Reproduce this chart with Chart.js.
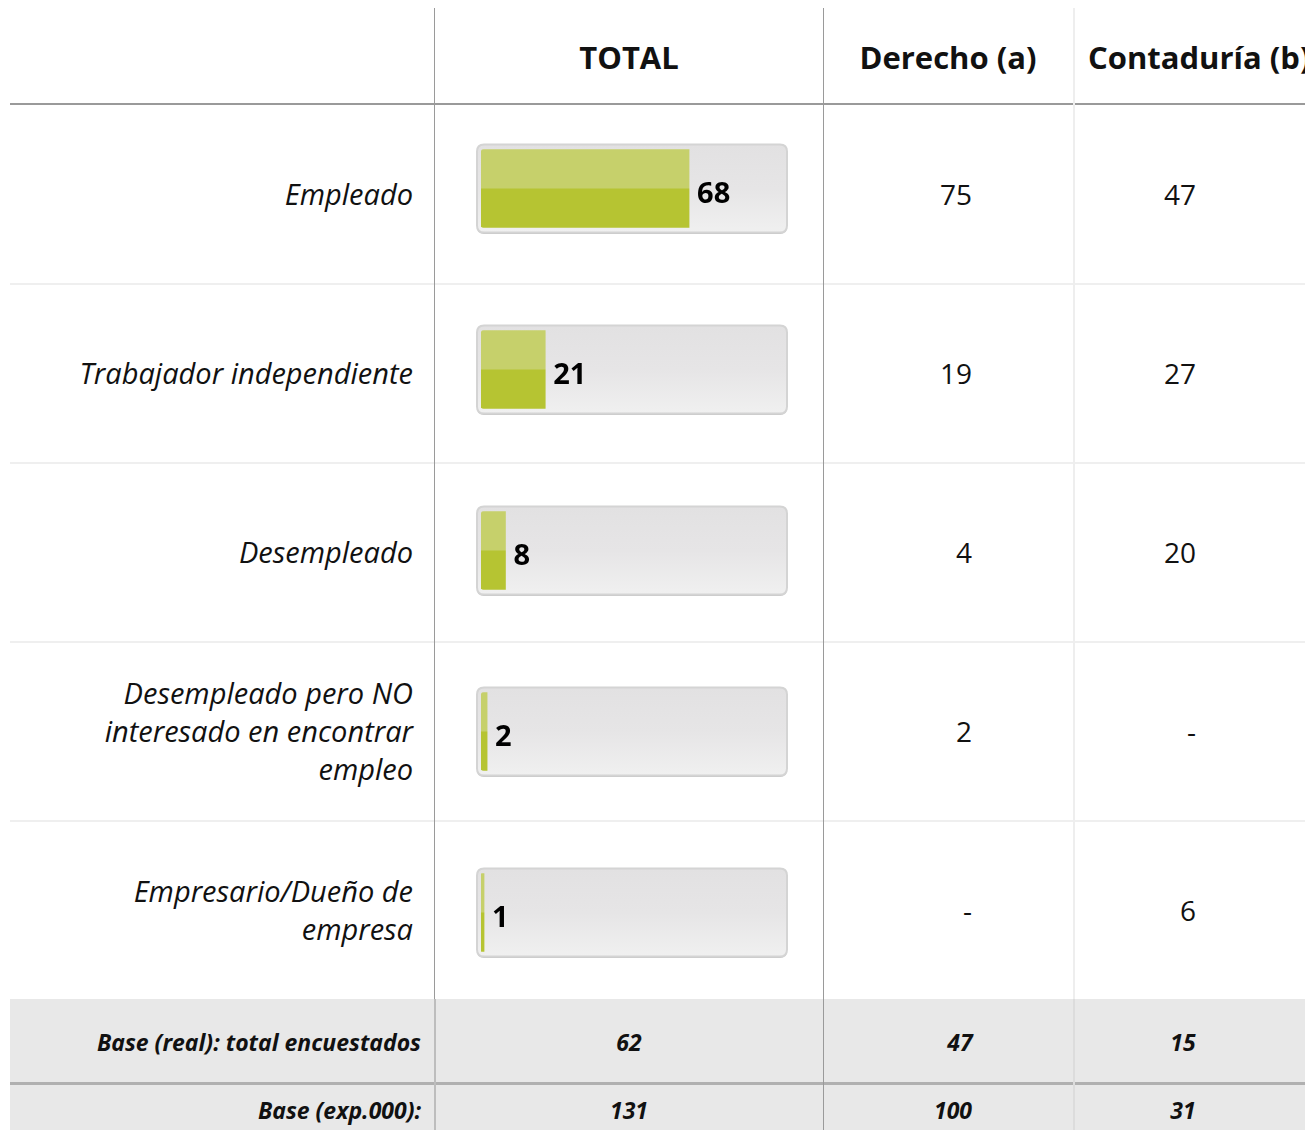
<!DOCTYPE html>
<html>
<head>
<meta charset="utf-8">
<script src="https://cdn.jsdelivr.net/npm/chart.js@4.4.1/dist/chart.umd.min.js"></script>
<style>
  html, body { margin: 0; padding: 0; }
  body { width: 1305px; height: 1130px; overflow: hidden; position: relative; background: #fff; font-family: "Open Sans", sans-serif; color: #111; }
  .abs { position: absolute; white-space: nowrap; }
  .hdr { font-weight: bold; font-size: 31px; line-height: 40px; top: 37px; }
  .lbl { font-style: italic; font-size: 29px; line-height: 38px; text-align: right; right: 892px; }
  .num { font-size: 28px; line-height: 38px; text-align: right; }
  .base { font-weight: bold; font-style: italic; font-size: 23px; line-height: 30px; }
  .vline { position: absolute; width: 1px; }
  .hline { position: absolute; height: 2px; left: 10px; width: 1295px; }
  #chartWrap { position: absolute; left: 470px; top: 98px; width: 330px; height: 905px; z-index: 5; }
</style>
</head>
<body>
<div id="table"></div>
<div id="chartWrap"><canvas id="c" width="330" height="905"></canvas></div>
<script>
// ---- data ----
const columnHeaders = ["TOTAL", "Derecho (a)", "Contaduría (b)"];
const categories = [
  ["Empleado"],
  ["Trabajador independiente"],
  ["Desempleado"],
  ["Desempleado pero NO", "interesado en encontrar", "empleo"],
  ["Empresario/Dueño de", "empresa"]
];
const totalValues = [68, 21, 8, 2, 1];
const derechoValues = ["75", "19", "4", "2", "-"];
const contaduriaValues = ["47", "27", "20", "-", "6"];
const baseLabels = ["Base (real): total encuestados", "Base (exp.000):"];
const baseReal = ["62", "47", "15"];
const baseExp = ["131", "100", "31"];
const scaleMax = 100;

// ---- table (HTML) ----
const T = document.getElementById('table');
function add(html, cls, style) {
  const d = document.createElement('div');
  d.className = cls;
  d.innerHTML = html;
  Object.assign(d.style, style);
  T.appendChild(d);
  return d;
}
add('', 'abs', {left: '10px', top: '999px', width: '1295px', height: '131px', background: '#e8e8e8'});
add('', 'hline', {top: '103px', background: '#9a9a9a'});
[283, 462, 641, 820].forEach(y => add('', 'hline', {top: y + 'px', background: '#efefef'}));
add('', 'hline', {top: '1082px', background: '#b0b0b0', height: '3px'});
add('', 'vline', {left: '434px', top: '8px', height: '991px', background: '#9a9a9a'});
add('', 'vline', {left: '434px', top: '999px', height: '131px', background: '#bdbdbd', width: '2px'});
add('', 'vline', {left: '823px', top: '8px', height: '1122px', background: '#9a9a9a'});
add('', 'vline', {left: '1073px', top: '8px', height: '991px', background: '#eeeeee', width: '2px'});
add('', 'vline', {left: '1073px', top: '999px', height: '131px', background: '#dcdcdc', width: '2px'});

add(columnHeaders[0], 'abs hdr', {left: '529px', width: '200px', textAlign: 'center'});
add(columnHeaders[1], 'abs hdr', {left: '848px', width: '200px', textAlign: 'center'});
add(columnHeaders[2], 'abs hdr', {left: '1088px'});

categories.forEach((lines, i) => {
  const cy = 194 + 179 * i;
  const h = lines.length * 38;
  add(lines.join('<br>'), 'abs lbl', {top: (cy - h / 2) + 'px'});
  add(derechoValues[i], 'abs num', {top: (cy - 19) + 'px', left: '872px', width: '100px'});
  add(contaduriaValues[i], 'abs num', {top: (cy - 19) + 'px', left: '1096px', width: '100px'});
});

[[baseReal, 1042], [baseExp, 1110]].forEach(([vals, cy], r) => {
  add(baseLabels[r], 'abs base', {top: (cy - 15) + 'px', right: '884px', textAlign: 'right'});
  add(vals[0], 'abs base', {top: (cy - 15) + 'px', left: '579px', width: '100px', textAlign: 'center'});
  add(vals[1], 'abs base', {top: (cy - 15) + 'px', left: (r === 0 ? 910 : 903) + 'px', width: '100px', textAlign: 'center'});
  add(vals[2], 'abs base', {top: (cy - 15) + 'px', left: '1133px', width: '100px', textAlign: 'center'});
});

// ---- chart ----
const BAR_H = 78;
function roundRect(ctx, x, y, w, h, r) {
  ctx.beginPath();
  ctx.moveTo(x + r, y);
  ctx.lineTo(x + w - r, y);
  ctx.quadraticCurveTo(x + w, y, x + w, y + r);
  ctx.lineTo(x + w, y + h - r);
  ctx.quadraticCurveTo(x + w, y + h, x + w - r, y + h);
  ctx.lineTo(x + r, y + h);
  ctx.quadraticCurveTo(x, y + h, x, y + h - r);
  ctx.lineTo(x, y + r);
  ctx.quadraticCurveTo(x, y, x + r, y);
  ctx.closePath();
}
const trackPlugin = {
  id: 'track',
  beforeDatasetsDraw(chart) {
    const ctx = chart.ctx;
    const xs = chart.scales.x, ys = chart.scales.y;
    const x0 = xs.getPixelForValue(0) - 4;
    const x1 = xs.getPixelForValue(scaleMax);
    categories.forEach((c, i) => {
      const cy = ys.getPixelForValue(i);
      const top = cy - 44, h = 88;
      ctx.save();
      roundRect(ctx, x0, top + 1.5, x1 - x0, h, 7);
      ctx.fillStyle = '#c6c6c6';
      ctx.fill();
      roundRect(ctx, x0, top, x1 - x0, h, 7);
      const g = ctx.createLinearGradient(0, top, 0, top + h);
      g.addColorStop(0, '#e2e1e2');
      g.addColorStop(0.5, '#e6e5e6');
      g.addColorStop(1, '#f0f0f0');
      ctx.fillStyle = g;
      ctx.fill();
      ctx.lineWidth = 2;
      ctx.strokeStyle = '#d4d4d4';
      ctx.stroke();
      ctx.restore();
    });
  }
};
const valuePlugin = {
  id: 'values',
  afterDatasetsDraw(chart) {
    const ctx = chart.ctx;
    const meta = chart.getDatasetMeta(0);
    ctx.save();
    ctx.font = 'bold 29px "Open Sans", sans-serif';
    ctx.fillStyle = '#000';
    ctx.textBaseline = 'middle';
    ctx.textAlign = 'left';
    meta.data.forEach((bar, i) => {
      const xEnd = Math.max(bar.x, chart.scales.x.getPixelForValue(0) + 2);
      ctx.fillText(String(totalValues[i]), xEnd + 8, bar.y + 6);
    });
    ctx.restore();
  }
};
new Chart(document.getElementById('c'), {
  type: 'bar',
  data: {
    labels: categories.map(l => l.join(' ')),
    datasets: [{
      data: totalValues,
      barThickness: BAR_H,
      borderWidth: 0,
      borderSkipped: false,
      borderRadius: {topLeft: 3, bottomLeft: 3, topRight: 0, bottomRight: 0},
      backgroundColor(ctx) {
        const chart = ctx.chart;
        const ys = chart.scales.y;
        if (!ys || ctx.dataIndex === undefined) return '#b6c432';
        const cy = ys.getPixelForValue(ctx.dataIndex);
        if (!isFinite(cy)) return '#b6c432';
        const g = chart.ctx.createLinearGradient(0, cy - BAR_H / 2, 0, cy + BAR_H / 2);
        g.addColorStop(0, '#c6d06b');
        g.addColorStop(0.49, '#c6d06b');
        g.addColorStop(0.51, '#b6c432');
        g.addColorStop(1, '#b6c432');
        return g;
      }
    }]
  },
  options: {
    indexAxis: 'y',
    responsive: false,
    animation: false,
    maintainAspectRatio: false,
    layout: {padding: {left: 11, right: 13, top: 0, bottom: 0}},
    plugins: {legend: {display: false}, tooltip: {enabled: false}},
    scales: {
      x: {display: false, min: 0, max: scaleMax},
      y: {display: false, offset: true, grid: {display: false}}
    }
  },
  plugins: [trackPlugin, valuePlugin]
});
</script>
</body>
</html>
